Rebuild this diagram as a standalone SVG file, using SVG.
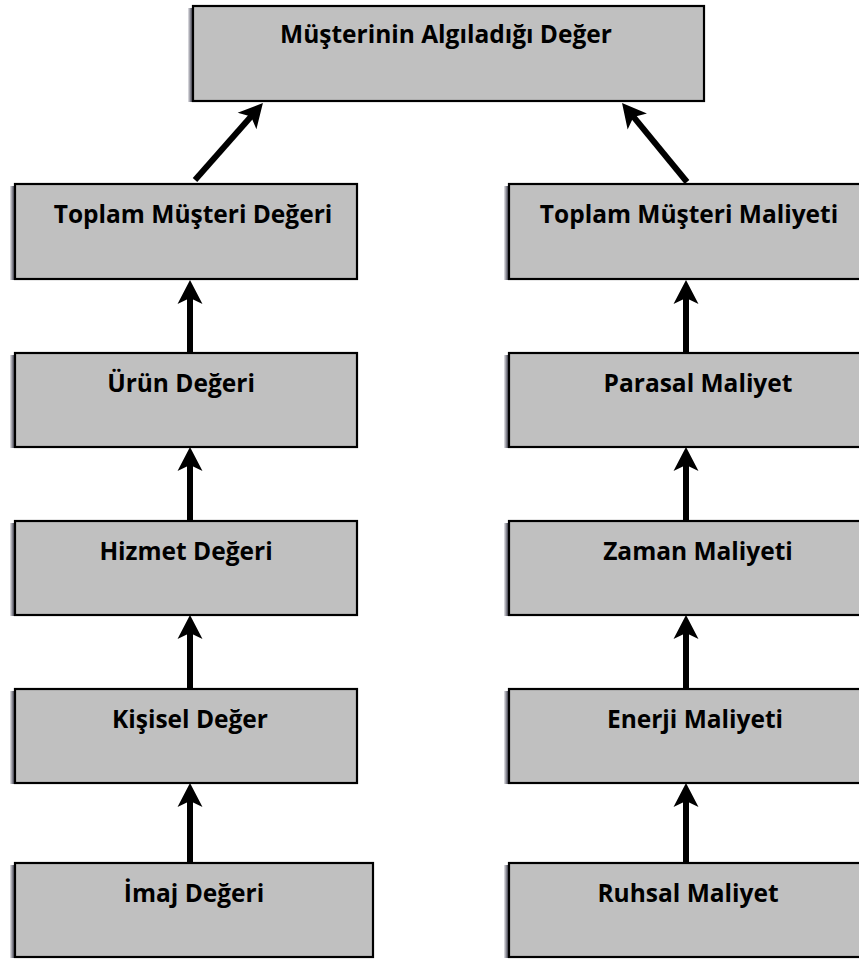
<svg xmlns="http://www.w3.org/2000/svg" width="859" height="960" viewBox="0 0 859 960">
  <style>
    .box { fill: #c0c0c0; stroke: #000; stroke-width: 2.2; }
    .shade { fill: url(#edgeShade); }
    .label { font-family: "Open Sans", "Liberation Sans", sans-serif; font-weight: 700; font-size: 24.5px; fill: #000; text-anchor: middle; }
    .link { stroke: #000; stroke-width: 6; fill: none; marker-end: url(#head); }
  </style>
  <defs>
    <linearGradient id="edgeShade" x1="0" y1="0" x2="1" y2="0">
      <stop offset="0" stop-color="#e6e6ea"/>
      <stop offset="0.5" stop-color="#70707c"/>
      <stop offset="1" stop-color="#25252c"/>
    </linearGradient>
    <marker id="head" markerUnits="userSpaceOnUse" markerWidth="30" markerHeight="30" viewBox="0 0 30 30" refX="14" refY="15" orient="auto">
      <path d="M0,2.5 L24,15 L0,27.5 L6,15 Z" fill="#000"/>
    </marker>
  </defs>

  <!-- top node -->
  <g id="perceived-value">
    <rect class="shade" x="188" y="8" width="6" height="94"/>
    <rect class="box" x="193" y="6" width="511" height="95"/>
    <text class="label" x="446" y="43">Müşterinin Algıladığı Değer</text>
  </g>

  <!-- value column -->
  <g id="total-value">
    <rect class="shade" x="10" y="186" width="6" height="94"/>
    <rect class="box" x="15" y="184" width="342" height="95"/>
    <text class="label" x="193" y="223">Toplam Müşteri Değeri</text>
  </g>
  <g id="product-value">
    <rect class="shade" x="10" y="355" width="6" height="93"/>
    <rect class="box" x="15" y="353" width="342" height="94"/>
    <text class="label" x="181" y="392">Ürün Değeri</text>
  </g>
  <g id="service-value">
    <rect class="shade" x="10" y="523" width="6" height="93"/>
    <rect class="box" x="15" y="521" width="342" height="94"/>
    <text class="label" x="186" y="560">Hizmet Değeri</text>
  </g>
  <g id="personal-value">
    <rect class="shade" x="10" y="691" width="6" height="93"/>
    <rect class="box" x="15" y="689" width="342" height="94"/>
    <text class="label" x="190" y="728">Kişisel Değer</text>
  </g>
  <g id="image-value">
    <rect class="shade" x="10" y="865" width="6" height="93"/>
    <rect class="box" x="15" y="863" width="358" height="94"/>
    <text class="label" x="194" y="902">İmaj Değeri</text>
  </g>

  <!-- cost column -->
  <g id="total-cost">
    <rect class="shade" x="504" y="186" width="6" height="94"/>
    <rect class="box" x="509" y="184" width="362" height="95"/>
    <text class="label" x="689" y="223">Toplam Müşteri Maliyeti</text>
  </g>
  <g id="monetary-cost">
    <rect class="shade" x="504" y="355" width="6" height="93"/>
    <rect class="box" x="509" y="353" width="362" height="94"/>
    <text class="label" x="698" y="392">Parasal Maliyet</text>
  </g>
  <g id="time-cost">
    <rect class="shade" x="504" y="523" width="6" height="93"/>
    <rect class="box" x="509" y="521" width="362" height="94"/>
    <text class="label" x="698" y="560">Zaman Maliyeti</text>
  </g>
  <g id="energy-cost">
    <rect class="shade" x="504" y="691" width="6" height="93"/>
    <rect class="box" x="509" y="689" width="362" height="94"/>
    <text class="label" x="695" y="728">Enerji Maliyeti</text>
  </g>
  <g id="psychic-cost">
    <rect class="shade" x="504" y="865" width="6" height="93"/>
    <rect class="box" x="509" y="863" width="362" height="94"/>
    <text class="label" x="688" y="902">Ruhsal Maliyet</text>
  </g>

  <!-- connectors -->
  <g id="connectors">
    <line class="link" x1="195" y1="180" x2="256.3" y2="110.5"/>
    <line class="link" x1="687" y1="182" x2="628.4" y2="110.7"/>
    <line class="link" x1="190" y1="353" x2="190" y2="290"/>
    <line class="link" x1="190" y1="521" x2="190" y2="457"/>
    <line class="link" x1="190" y1="689" x2="190" y2="625"/>
    <line class="link" x1="190" y1="863" x2="190" y2="793"/>
    <line class="link" x1="686" y1="353" x2="686" y2="290"/>
    <line class="link" x1="686" y1="521" x2="686" y2="457"/>
    <line class="link" x1="686" y1="689" x2="686" y2="625"/>
    <line class="link" x1="686" y1="863" x2="686" y2="793"/>
  </g>
</svg>
